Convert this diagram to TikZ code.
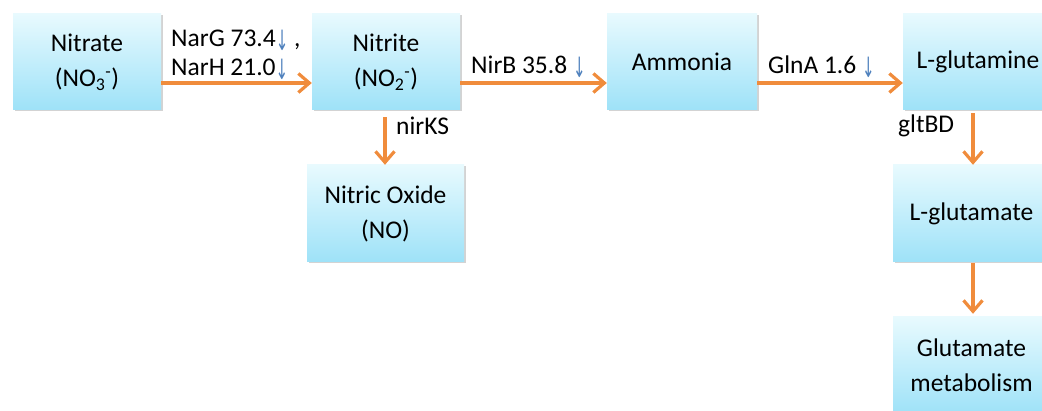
\documentclass[tikz,border=0pt]{standalone}
\usepackage{fontspec}
\usepackage{graphicx}
\setmainfont{Carlito}
\newfontfamily\arrowfont{DejaVu Sans}
\usetikzlibrary{arrows.meta,shadows}
\definecolor{boxtop}{RGB}{232,250,254}
\definecolor{boxbot}{RGB}{158,226,248}
\definecolor{arrorange}{RGB}{240,140,60}
\definecolor{downblue}{RGB}{79,129,189}
\newcommand{\dn}{\raisebox{-4pt}{\scalebox{0.75}[1.4]{\arrowfont\color{downblue}\fontsize{20}{20}\selectfont ↓}}}
\tikzset{
  box/.style={rectangle, top color=boxtop, bottom color=boxbot, draw=none,
    minimum height=96pt, inner sep=0pt, align=center,
    font=\fontsize{25.5}{35}\selectfont,
    drop shadow={opacity=0.35, shadow xshift=1.5pt, shadow yshift=-1.5pt, fill=gray}},
  arr/.style={draw=arrorange, line width=4pt, -{Straight Barb[length=11pt,width=19pt,line width=3.2pt]}},
  lbl/.style={anchor=base west, inner sep=0pt, font=\fontsize{25.5}{32}\selectfont}
}
\begin{document}
\begin{tikzpicture}[x=1pt,y=-1pt]
\useasboundingbox (0,0) rectangle (1042,411);
\clip (0,0) rectangle (1042,411);
\node[box, minimum width=148pt] (nitrate) at (87,62) {Nitrate\\(NO\textsubscript{3}\textsuperscript{-})};
\node[box, minimum width=148pt] (nitrite) at (386,62) {Nitrite\\(NO\textsubscript{2}\textsuperscript{-})};
\node[box, minimum width=150pt] (ammonia) at (682,62) {Ammonia};
\node[box, minimum width=150pt] (glutamine) at (978,62) {L-glutamine};
\node[box, minimum width=157pt, minimum height=97pt] (no) at (385.5,213.5) {Nitric Oxide\\(NO)};
\node[box, minimum width=157pt, minimum height=97pt] (glutamate) at (971.5,213.5) {L-glutamate};
\node[box, minimum width=157pt, minimum height=97pt] (metab) at (971.5,365.5) {Glutamate\\metabolism};

\draw[arr] (nitrate.east |- 0,83) -- (nitrite.west |- 0,83);
\draw[arr] (nitrite.east |- 0,83) -- (ammonia.west |- 0,83);
\draw[arr] (ammonia.east |- 0,83) -- (glutamine.west |- 0,83);
\draw[arr, shorten <=7pt] (nitrite.south -| 385,0) -- (no.north -| 385,0);
\draw[arr, shorten <=3pt] (glutamine.south -| 973,0) -- (glutamate.north -| 973,0);
\draw[arr, shorten <=1pt, shorten >=3pt] (glutamate.south -| 973,0) -- (metab.north -| 973,0);

\node[lbl] (narg) at (171,47) {NarG 73.4\dn\ ,};
\node[lbl] (narh) at (171,76) {NarH 21.0\dn};
\node[lbl] (nirb) at (471,74) {NirB 35.8 \dn};
\node[lbl] (glna) at (768,74) {GlnA 1.6 \dn};
\node[lbl] (nirks) at (396,135) {nirKS};
\node[lbl] (gltbd) at (898,133) {gltBD};
\end{tikzpicture}
\end{document}
